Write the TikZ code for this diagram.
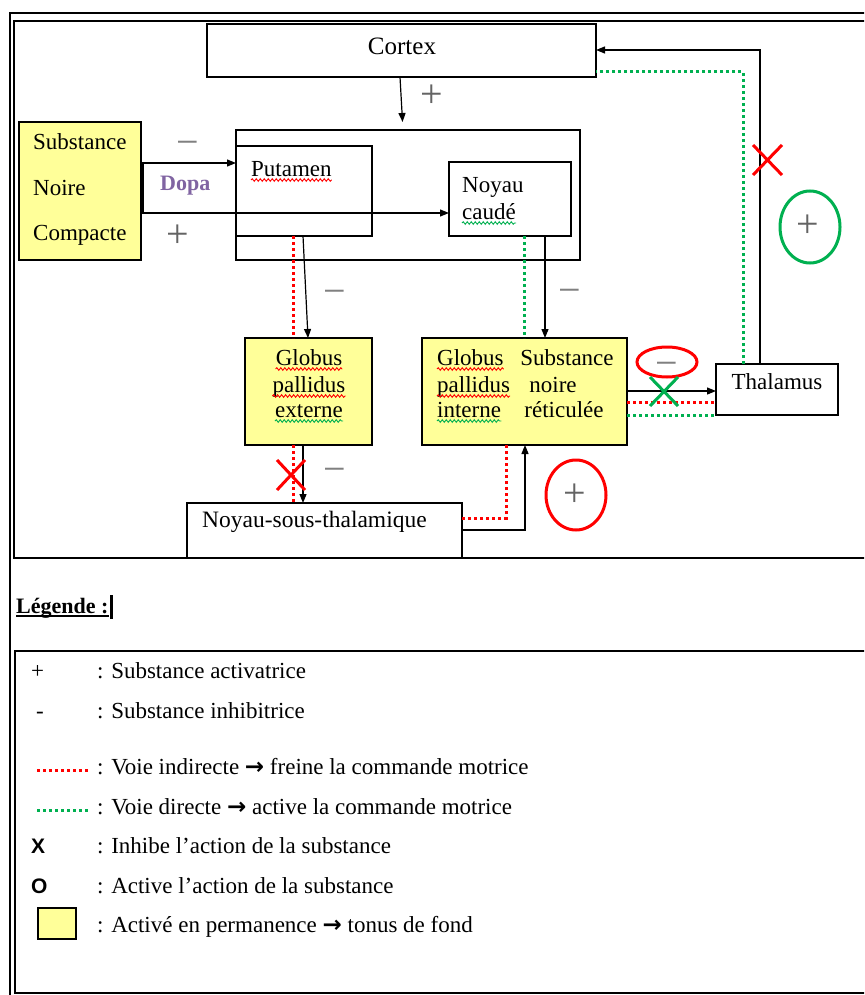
\documentclass[tikz,border=0pt]{standalone}
\usepackage{fontspec}
\setmainfont{Liberation Serif}
\newfontfamily\arialf{Liberation Sans}
\newfontfamily\dejavuf{DejaVu Sans}
\newcommand{\flechel}{{\dejavuf\bfseries →}}
\usetikzlibrary{arrows.meta,decorations.pathmorphing}
\definecolor{jaune}{RGB}{255,255,153}
\definecolor{vert}{RGB}{0,176,80}
\definecolor{rouge}{RGB}{255,0,0}
\definecolor{violet}{RGB}{128,100,162}
\definecolor{gris}{RGB}{100,100,100}
\definecolor{grisc}{RGB}{128,128,128}
\begin{document}
\begin{tikzpicture}[x=1pt,y=-1pt,
 every node/.style={font=\fontsize{23}{27}\selectfont},
 boite/.style={draw, line width=1.3pt, inner sep=0pt, outer sep=0pt, anchor=north west},
 jboite/.style={boite, fill=jaune},
 txt/.style={inner sep=0pt, anchor=base west},
 ctxt/.style={inner sep=0pt, anchor=base},
 fl/.style={line width=1.2pt, -{Triangle[length=9pt,width=7pt]}},
 lien/.style={line width=1.2pt},
 rdot/.style={draw=rouge, line width=3pt, dash pattern=on 3pt off 3pt},
 vdot/.style={draw=vert, line width=3pt, dash pattern=on 3pt off 3pt},
 sgn/.style={text=gris, inner sep=0pt, anchor=base, font=\fontsize{40}{40}\selectfont},
 sgnm/.style={sgn, text=grisc},
 ondr/.style={draw=rouge, line width=0.9pt, decorate, decoration={snake, amplitude=1.3pt, segment length=4pt}},
 ondv/.style={ondr, draw=vert},
 croix/.style={line width=3pt},
 ell/.style={line width=3pt},
 legt/.style={txt, font=\fontsize{23}{27}\selectfont}
]
\clip (0,0) rectangle (864,995);
\fill[white] (0,0) rectangle (864,995);
% frames
\draw[line width=1.5pt] (10,13) rectangle (900,1010);
\draw[line width=1.5pt] (14,21) rectangle (900,558);
\draw[line width=1.5pt] (15,651) rectangle (900,993);

% helper coordinates
\coordinate (xa) at (400,0);
\coordinate (xb3) at (403,0);
\coordinate (xr) at (293,0);
\coordinate (xpa) at (303,0);
\coordinate (xpb) at (308,0);
\coordinate (xca) at (545,0);
\coordinate (xg) at (524,0);
\coordinate (xb) at (525,0);
\coordinate (xrr) at (506,0);
\coordinate (yb) at (0,530);
\coordinate (yr) at (0,518);
\coordinate (ya) at (0,391);
\coordinate (ya2) at (0,402);
\coordinate (ya3) at (0,415);
\coordinate (xt) at (760,0);
\coordinate (yt) at (0,50);
\coordinate (xtg) at (743,0);
\coordinate (ytg) at (0,72);
\coordinate (dT) at (143,163);
\coordinate (dB) at (143,213);

% boxes
\node[boite, minimum width=389, minimum height=53] (cortex) at (207,24) {};
\node[boite, minimum width=344, minimum height=130] (striatum) at (236,130) {};
\node[boite, minimum width=136, minimum height=90] (putamen) at (236,146) {};
\node[boite, minimum width=122, minimum height=74] (caude) at (449,162) {};
\node[jboite, minimum width=122, minimum height=138] (snc) at (19,122) {};
\node[jboite, minimum width=127, minimum height=107] (gpe) at (245,338) {};
\node[jboite, minimum width=205, minimum height=107] (gpi) at (422,338) {};
\node[boite, minimum width=122, minimum height=51] (thal) at (716,364) {};
\node[boite, minimum width=275, minimum height=55] (nst) at (187,503) {};

% texts
\node[ctxt, font=\fontsize{25}{29}\selectfont] (tcortex) at (402,55) {Cortex};
\node[txt] (sn1) at (33,150) {Substance};
\node[txt] (sn2) at (33,196) {Noire};
\node[txt] (sn3) at (33,240) {Compacte};
\node[txt, text=violet, font=\fontsize{22}{26}\selectfont\bfseries] (dopa) at (160,190) {Dopa};
\node[txt] (tput) at (251,176) {Putamen};
\node[txt] (tcd1) at (462,193) {Noyau};
\node[txt] (tcd2) at (462,219) {caudé};
\node[ctxt] (ge1) at (309,365) {Globus};
\node[ctxt] (ge2) at (309,392) {pallidus};
\node[ctxt] (ge3) at (309,417) {externe};
\node[txt] (gi1) at (437,365) {Globus};
\node[txt] (gi2) at (437,392) {pallidus};
\node[txt] (gi3) at (437,417) {interne};
\node[ctxt] (sr1) at (567,365) {Substance};
\node[ctxt] (sr2) at (553,392) {noire};
\node[ctxt] (sr3) at (564,417) {réticulée};
\node[txt, font=\fontsize{23.5}{27}\selectfont] (tnst) at (202,527) {Noyau-sous-thalamique};
\node[ctxt] (tthal) at (777,389) {Thalamus};

% wavy underlines
\draw[ondr] ([yshift=-4pt]tput.base west) -- ([yshift=-4pt]tput.base east);
\draw[ondv] ([yshift=-4pt]tcd2.base west) -- ([yshift=-4pt]tcd2.base east);
\draw[ondr] ([yshift=-4pt]ge1.base west) -- ([yshift=-4pt]ge1.base east);
\draw[ondr] ([yshift=-4pt]ge2.base west) -- ([yshift=-4pt]ge2.base east);
\draw[ondv] ([yshift=-4pt]ge3.base west) -- ([yshift=-4pt]ge3.base east);
\draw[ondr] ([yshift=-4pt]gi1.base west) -- ([yshift=-4pt]gi1.base east);
\draw[ondr] ([yshift=-4pt]gi2.base west) -- ([yshift=-4pt]gi2.base east);
\draw[ondv] ([yshift=-4pt]gi3.base west) -- ([yshift=-4pt]gi3.base east);

% connectors
\draw[fl, shorten >=8pt] (cortex.south -| xa) -- (striatum.north -| xb3);
\draw[lien] (snc.east |- dT) -- (dT);
\draw[fl] (dB) -- (dT) -- (putamen.west |- dT);
\draw[fl] (snc.east |- dB) -- (caude.west |- dB);
\draw[rdot] (putamen.south -| xr) -- (gpe.north -| xr);
\draw[rdot] (gpe.south -| xr) -- (nst.north -| xr);
\draw[fl] (putamen.south -| xpa) -- (gpe.north -| xpb);
\draw[fl] (gpe.south -| xpa) -- (nst.north -| xpa);
\draw[vdot] (caude.south -| xg) -- (gpi.north -| xg);
\draw[fl] (caude.south -| xca) -- (gpi.north -| xca);
\draw[rdot] (nst.east |- yr) -| (gpi.south -| xrr);
\draw[fl] (nst.east |- yb) -| (gpi.south -| xb);
\draw[fl] (gpi.east |- ya) -- (thal.west |- ya);
\draw[rdot] (gpi.east |- ya2) -- (thal.west |- ya2);
\draw[vdot] (gpi.east |- ya3) -- (thal.west |- ya3);
\draw[vdot] (thal.north -| xtg) |- (cortex.east |- ytg);
\draw[fl] (thal.north -| xt) |- (cortex.east |- yt);

% signs
\node[sgnm] (m1) at (188,156) {−};
\node[sgn] (p1) at (432,108) {+};
\node[sgn] (p2) at (178,247) {+};
\node[sgnm] (m2) at (335,304) {−};
\node[sgnm] (m3) at (335,482) {−};
\node[sgnm] (m4) at (570,303) {−};
\node[sgnm] (m5) at (667,376) {−};
\node[sgn] (p3) at (575,506) {+};
\node[sgn] (p4) at (808,237) {+};

% ellipses and crosses
\draw[ell, rouge] (667,362) ellipse [x radius=30, y radius=15];
\draw[ell, rouge] (576,495) ellipse [x radius=30, y radius=35];
\draw[ell, vert] (810,227) ellipse [x radius=30, y radius=36];
\draw[croix, rouge] (277,460) -- (305,490) (277,490) -- (305,460);
\draw[croix, rouge] (753,145) -- (782,175) (753,175) -- (782,145);
\draw[croix, vert] (650,377) -- (678,406) (650,406) -- (678,377);

% legend
\node[txt, font=\fontsize{22}{26}\selectfont\bfseries] (leg) at (16,613) {Légende :};
\draw[line width=1.2pt] ([yshift=-3pt]leg.base west) -- ([yshift=-3pt]leg.base east);
\fill (110,595) rectangle (113,619);
\node[legt] (lp) at (31,678) {+};
\node[legt] (l1) at (97,678) {: Substance activatrice};
\node[legt] (lm) at (36,718) {-};
\node[legt] (l2) at (97,718) {: Substance inhibitrice};
\draw[rdot] (37,770) -- (88,770);
\node[legt] (l3) at (97,774) {: Voie indirecte \flechel{} freine la commande motrice};
\draw[vdot] (37,810) -- (88,810);
\node[legt] (l4) at (97,814) {: Voie directe \flechel{} active la commande motrice};
\node[txt, font=\fontsize{21}{24}\arialf\bfseries] (lx) at (31,853) {X};
\node[legt] (l5) at (97,853) {: Inhibe l’action de la substance};
\node[txt, font=\fontsize{21}{24}\arialf\bfseries] (lo) at (31,893) {O};
\node[legt] (l6) at (97,893) {: Active l’action de la substance};
\node[jboite, minimum width=38, minimum height=31] (lsq) at (38,908) {};
\node[legt] (l7) at (97,932) {: Activé en permanence \flechel{} tonus de fond};
\end{tikzpicture}
\end{document}
